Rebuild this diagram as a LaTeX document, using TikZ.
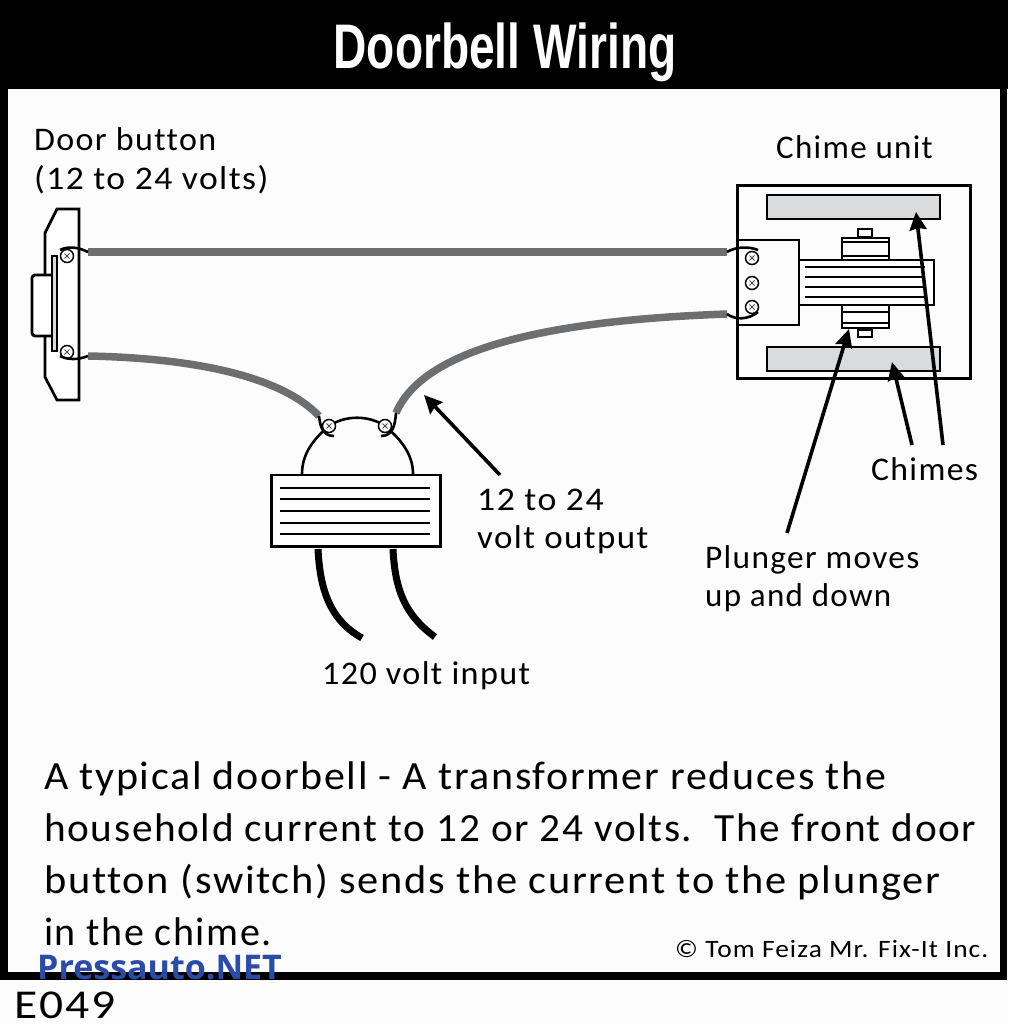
\documentclass[tikz,border=0pt]{standalone}
\usepackage{fontspec}
\setmainfont[LetterSpace=4,Ligatures=NoCommon]{Carlito}
\newfontfamily\titlefont{Liberation Sans}
\newfontfamily\wmfont{Open Sans}
\usetikzlibrary{arrows.meta,calc}
\definecolor{wiregray}{HTML}{6D6E70}
\definecolor{chimegray}{HTML}{D9DBDD}
\definecolor{wmblue}{HTML}{2B4BA8}
\definecolor{paper}{HTML}{FCFCFC}
\tikzset{
  x=1pt,y=-1pt,
  ln/.style={draw=black,line width=2.7pt},
  thin line/.style={draw=black,line width=1.5pt},
  greywire/.style={draw=wiregray,line width=7.5pt},
  hook/.style={draw=black,line width=2.6pt},
  inwire/.style={draw=black,line width=7pt},
  callout/.style={draw=black,line width=3.6pt,-{Stealth[length=18pt,width=17pt,inset=2pt]}},
  screw/.style={circle,draw=black,line width=1.5pt,fill=white,minimum size=13pt,inner sep=0pt},
  lbl/.style={anchor=base west,inner sep=0pt,font=\fontsize{33}{33}\selectfont},
  para/.style={anchor=base west,inner sep=0pt,font=\fontsize{40}{40}\selectfont},
}
\newcommand{\scr}[2]{\node[screw] (#1) at #2 {}; \draw[line width=.8pt,black!70] ($(#1)+(-2.5,-2.5)$) -- ($(#1)+(2.5,2.5)$) ($(#1)+(-2.5,2.5)$) -- ($(#1)+(2.5,-2.5)$);}
\begin{document}
\begin{tikzpicture}
\useasboundingbox (0,0) rectangle (1008,1024);
\fill[paper] (0,0) rectangle (1008,1024);
% frame
\fill[black] (0,0) rectangle (1008,89);
\fill[black] (0,0) rectangle (8,980);
\fill[black] (1000,0) rectangle (1007,980);
\fill[black] (0,972) rectangle (1007,980);
\node[anchor=base,inner sep=0pt,text=white,font=\titlefont\bfseries\fontsize{63}{63}\selectfont,xscale=.732] (title) at (505,69) {Doorbell Wiring};

% door button
\draw[ln,fill=white] (57,209) -- (79,209) -- (79,400) -- (57,400) -- (45,377) -- (45,233) -- cycle;
\fill[white] (33,276) rectangle (50,335);
\draw[ln,rounded corners=3pt] (52,275) -- (32,275) -- (32,336) -- (52,336);
\draw[ln,fill=chimegray,line width=2pt] (52,256) rectangle (57,351);
\scr{bt}{(67,256)}
\scr{bb}{(67,352)}

% chime
\node[ln,rectangle,minimum width=233.3pt,minimum height=193.3pt,anchor=center,inner sep=0pt] (chimebox) at (854,282) {};
\draw[ln,fill=chimegray] (767,195) rectangle (940,219);
\draw[ln,fill=chimegray] (767,347) rectangle (940,371);
\draw[ln] (736,240) -- (799,240) -- (799,325) -- (736,325);
\draw[ln,fill=white] (858,229) rectangle (872,237);
\draw[ln,fill=white] (842,238) rectangle (889,260);
\draw[thin line] (842,242) -- (889,242) (842,256) -- (889,256);
\draw[ln,fill=white] (858,330) rectangle (872,337);
\draw[ln,fill=white] (842,305) rectangle (889,328);
\draw[thin line] (842,312) -- (889,312) (842,323) -- (889,323);
\draw[ln,fill=white] (799,260) rectangle (934,305);
\foreach \yy in {267,277,287,297} \draw[thin line] (805,\yy) -- (925,\yy);
\scr{ct}{(752,258)}
\scr{cm}{(752,283)}
\scr{cb}{(752,307)}

% transformer
\draw[line width=2.6pt] (302,474) .. controls (302,456) and (311,441) .. (329,426);
\draw[line width=2.6pt] (329,426) .. controls (345,415) and (369,415) .. (385,426);
\draw[line width=2.6pt] (385,426) .. controls (403,441) and (413,456) .. (413,474);
\node[ln,rectangle,minimum width=169.3pt,minimum height=71.3pt,anchor=center,inner sep=0pt,fill=white] (trans) at (356,510.5) {};
\foreach \yy in {488,499,511,523,534} \draw[thin line] (280,\yy) -- (430,\yy);
\scr{tl}{(329,426)}
\scr{tr}{(385,426)}

% wires
\coordinate (w1a) at (88,252); \coordinate (w1b) at (727,252);
\coordinate (w2a) at (88,356); \coordinate (w2b) at (319,416);
\coordinate (w3a) at (396,413); \coordinate (w3b) at (727,314);
\draw[greywire] (w1a) -- (w1b);
\draw[greywire] (w2a) .. controls (190,358) and (280,375) .. (w2b);
\draw[greywire] (w3a) .. controls (425,345) and (560,320) .. (w3b);
\draw[hook] (w1a) .. controls (78,247) and (68,246) .. (60,250);
\draw[hook] (w2a) .. controls (78,360) and (68,360) .. (60,356);
\draw[hook] (w2b) .. controls (320,425) and (322,436) .. (334,436);
\draw[hook] (w3a) .. controls (395,425) and (393,436) .. (381,436);
\draw[hook] (w1b) .. controls (735,247) and (748,246) .. (758,250);
\draw[hook] (w3b) .. controls (735,320) and (748,320) .. (758,312);
\draw[inwire] (318,549) .. controls (320,590) and (330,620) .. (362,638);
\draw[inwire] (393,549) .. controls (395,590) and (405,615) .. (435,637);

% callouts
\coordinate (c1s) at (500,475); \coordinate (c1e) at (424,395);
\coordinate (c2s) at (787,533); \coordinate (c2e) at (849,329);
\coordinate (c3s) at (912,445); \coordinate (c3e) at (892,362);
\coordinate (c4s) at (943,445); \coordinate (c4e) at (916,212);
\draw[callout] (c1s) -- (c1e);
\draw[callout] (c2s) -- (c2e);
\draw[callout] (c3s) -- (c3e);
\draw[callout] (c4s) -- (c4e);

% labels
\node[lbl,xscale=1.03] (l1) at (34,151) {Door button};
\node[lbl,xscale=1.08] (l2) at (34,190) {(12 to 24 volts)};
\node[lbl,xscale=1.0] (l3) at (776,159) {Chime unit};
\node[lbl,xscale=1.02] (l4) at (871,480) {Chimes};
\node[lbl,xscale=1.085] (l5) at (477,510) {12 to 24};
\node[lbl,xscale=1.06] (l6) at (477,548) {volt output};
\node[lbl,xscale=1.01] (l7) at (705,568) {Plunger moves};
\node[lbl] (l8) at (705,606) {up and down};
\node[lbl,xscale=1.035] (l9) at (322,684) {120 volt input};
\node[para,xscale=1.05] (p1) at (44,789) {A typical doorbell - A transformer reduces the};
\node[para,xscale=1.032] (p2) at (44,841) {household current to 12 or 24 volts.\ \ The front door};
\node[para,xscale=1.06] (p3) at (44,893) {button (switch) sends the current to the plunger};
\node[para] (p4) at (44,945) {in the chime.};
\node[anchor=base west,inner sep=0pt,xscale=1.095,font=\fontsize{25}{25}\selectfont] (cr) at (675,957) {© Tom Feiza Mr. Fix-It Inc.};
\node[anchor=base west,inner sep=0pt,xscale=1.16,font=\fontsize{41}{41}\selectfont] (code) at (14,1018) {E049};
\node[anchor=base west,inner sep=0pt,text=wmblue,font=\wmfont\bfseries\fontsize{34}{34}\selectfont] (wm) at (37,979) {Pressauto.NET};
\end{tikzpicture}
\end{document}
